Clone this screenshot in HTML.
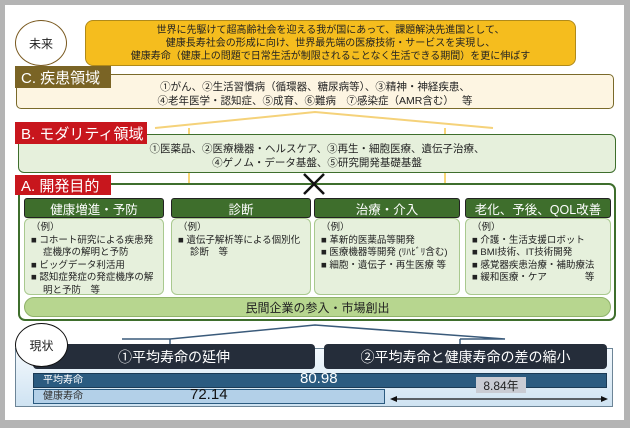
<!DOCTYPE html>
<html><head><meta charset="utf-8"><style>
*{margin:0;padding:0;box-sizing:border-box}
body{width:630px;height:428px;background:#b4b4b4;position:relative;overflow:hidden;font-family:"Liberation Sans","Noto Sans CJK JP",sans-serif;color:#222}
.a{position:absolute}
.c{display:flex;align-items:center;justify-content:center;text-align:center}
.lbl{color:#fff;font-size:15px;padding-left:6px;display:flex;align-items:center}
.hd{background:#3e6e2c;border:1px solid #222;border-radius:3px;color:#fff;font-size:12.5px}
.ct{background:#e6f0dc;border:1px solid #a9c98f;border-radius:6px;font-size:9.5px;line-height:12.5px;padding:3px 4px 0 6px}
.ct div{padding-left:12px;text-indent:-12px}
.dk{background:#252d3a;border-radius:4px;color:#fff;font-size:14px}
</style></head><body>
<div class="a" style="left:5px;top:5px;width:619px;height:415px;background:#fff"></div>
<svg class="a" style="left:0;top:0" width="630" height="428">
<polyline points="155,128 315,112 493,128" fill="none" stroke="#f5d27a" stroke-width="2"/>
<line x1="189" y1="128" x2="189" y2="320" stroke="#f5c84a" stroke-width="1.5"/>
<line x1="445" y1="128" x2="445" y2="320" stroke="#f5c84a" stroke-width="1.5"/>
</svg>
<div class="a c" style="left:15px;top:20px;width:52px;height:46px;border:1.5px solid #7a5a20;border-radius:50%;font-size:12px;background:#fff">未来</div>
<div class="a c" style="left:85px;top:20px;width:491px;height:46px;background:#f5bd1e;border:1px solid #b08a1a;border-radius:8px;font-size:10px;line-height:13px">世界に先駆けて超高齢社会を迎える我が国にあって、課題解決先進国として、<br>健康長寿社会の形成に向け、世界最先端の医療技術・サービスを実現し、<br>健康寿命（健康上の問題で日常生活が制限されることなく生活できる期間）を更に伸ばす</div>
<div class="a c" style="left:16px;top:74px;width:598px;height:35px;background:#fdf5e2;border:1.5px solid #7a6a2a;border-radius:5px;font-size:10.5px;line-height:14px;padding-top:5px">①がん、②生活習慣病（循環器、糖尿病等）、③精神・神経疾患、<br>④老年医学・認知症、⑤成育、⑥難病　⑦感染症（AMR含む）　 等</div>
<div class="a lbl" style="left:15px;top:66px;width:96px;height:22px;background:#7a6425">C. 疾患領域</div>
<div class="a c" style="left:18px;top:134px;width:598px;height:39px;background:#e6f0dc;border:1.5px solid #3e6e2c;border-radius:6px;font-size:10.5px;line-height:14px;padding-top:4px">①医薬品、②医療機器・ヘルスケア、③再生・細胞医療、遺伝子治療、<br>④ゲノム・データ基盤、⑤研究開発基礎基盤</div>
<div class="a lbl" style="left:15px;top:122px;width:132px;height:22px;background:#c8161d">B. モダリティ領域</div>
<div class="a" style="left:18px;top:183px;width:598px;height:138px;background:#fff;border:2px solid #3e6e2c;border-radius:7px"></div>
<svg class="a" style="left:300px;top:172px" width="28" height="24"><path d="M4 2L24 22M24 2L4 22" stroke="#111" stroke-width="2.5"/></svg>
<div class="a lbl" style="left:15px;top:175px;width:96px;height:20px;background:#c8161d">A. 開発目的</div>
<div class="a hd c" style="left:24px;top:198px;width:140px;height:20px">健康増進・予防</div>
<div class="a hd c" style="left:171px;top:198px;width:140px;height:20px">診断</div>
<div class="a hd c" style="left:314px;top:198px;width:146px;height:20px">治療・介入</div>
<div class="a hd c" style="left:465px;top:198px;width:146px;height:20px">老化、予後、QOL改善</div>
<div class="a ct" style="left:24px;top:218px;width:140px;height:77px">（例）<div>■ コホート研究による疾患発症機序の解明と予防</div><div>■ ビッグデータ利活用</div><div>■ 認知症発症の発症機序の解明と予防　等</div></div>
<div class="a ct" style="left:171px;top:218px;width:140px;height:77px">（例）<div>■ 遺伝子解析等による個別化診断　等</div></div>
<div class="a ct" style="left:314px;top:218px;width:146px;height:77px">（例）<div>■ 革新的医薬品等開発</div><div>■ 医療機器等開発 (ﾘﾊﾋﾞﾘ含む)</div><div>■ 細胞・遺伝子・再生医療 等</div></div>
<div class="a ct" style="left:465px;top:218px;width:146px;height:77px">（例）<div>■ 介護・生活支援ロボット</div><div>■ BMI技術、IT技術開発</div><div>■ 感覚器疾患治療・補助療法</div><div>■ 緩和医療・ケア　　　　等</div></div>
<div class="a c" style="left:24px;top:297px;width:587px;height:20px;background:#b7d68f;border:1px solid #8fb26a;border-radius:10px;font-size:12px">民間企業の参入・市場創出</div>
<div class="a" style="left:15px;top:348px;width:598px;height:59px;background:linear-gradient(#f4f9fd,#cfe3f2);border:1.5px solid #6d8597"></div>
<svg class="a" style="left:0;top:0" width="630" height="428">
<polyline points="122,339 170,339 315,325 505,339 460,339" fill="none" stroke="#3a5a7a" stroke-width="1.5"/>
<line x1="170" y1="339" x2="170" y2="345" stroke="#3a5a7a" stroke-width="1.5"/>
<line x1="460" y1="339" x2="460" y2="345" stroke="#3a5a7a" stroke-width="1.5"/>
</svg>
<div class="a dk c" style="left:33px;top:344px;width:282px;height:25px">①平均寿命の延伸</div>
<div class="a dk c" style="left:324px;top:344px;width:283px;height:25px">②平均寿命と健康寿命の差の縮小</div>
<div class="a" style="left:33px;top:373px;width:574px;height:15px;background:#2b5b80;border:1px solid #1a3a55;color:#fff;font-size:10px;padding-left:9px;line-height:14px">平均寿命</div>
<div class="a" style="left:300px;top:370px;font-size:15px;color:#fff">80.98</div>
<div class="a" style="left:33px;top:389px;width:352px;height:15px;background:#b3d0e8;border:1px solid #2b5b80;font-size:10px;padding-left:9px;line-height:14px;color:#333">健康寿命</div>
<div class="a" style="left:190px;top:386px;font-size:15px;color:#111">72.14</div>
<div class="a c" style="left:476px;top:377px;width:50px;height:16px;background:#c9ccd4;font-size:12px">8.84年</div>
<svg class="a" style="left:390px;top:394px" width="220" height="10"><line x1="4" y1="5" x2="214" y2="5" stroke="#111" stroke-width="1.2"/><path d="M0 5L7 2L7 8Z M218 5L211 2L211 8Z" fill="#111"/></svg>
<div class="a c" style="left:15px;top:323px;width:53px;height:44px;border:1.5px solid #111;border-radius:50%;font-size:12px;background:#fff">現状</div>
</body></html>
